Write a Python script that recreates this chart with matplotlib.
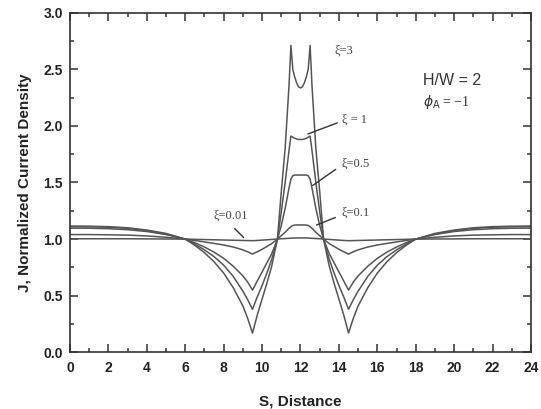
import matplotlib
matplotlib.use("Agg")
import matplotlib.pyplot as plt
from matplotlib.ticker import MultipleLocator

# Distance samples
S = [0, 1, 2, 3, 4, 5, 6, 6.5, 7, 7.5, 8, 8.5, 9, 9.25, 9.5, 9.75, 10, 10.25, 10.5, 10.8,
     11, 11.2, 11.4, 11.5, 11.6, 11.7, 11.8, 11.9, 12,
     12.1, 12.2, 12.3, 12.4, 12.5, 12.6, 12.8, 13, 13.2, 13.5, 13.75, 14, 14.25,
     14.5, 14.75, 15, 15.5, 16, 16.5, 17, 17.5, 18, 19, 20, 21, 22, 23, 24]

J_xi3 = [1.115, 1.114, 1.11, 1.10, 1.08, 1.05, 1.00, 0.945, 0.88, 0.80, 0.70, 0.57, 0.41, 0.30, 0.17,
         0.33, 0.47, 0.61, 0.76, 1.00, 1.42, 1.80, 2.35, 2.71, 2.50, 2.43, 2.38, 2.345, 2.335,
         2.345, 2.38, 2.43, 2.50, 2.71, 2.35, 1.80, 1.42, 1.00, 0.76, 0.61, 0.47, 0.33,
         0.17, 0.30, 0.41, 0.57, 0.70, 0.80, 0.88, 0.945, 1.00, 1.05, 1.08, 1.10, 1.11, 1.114, 1.115]

J_xi1 = [1.11, 1.109, 1.105, 1.095, 1.075, 1.045, 1.00, 0.955, 0.905, 0.845, 0.77, 0.67, 0.54, 0.465, 0.38,
         0.49, 0.59, 0.70, 0.82, 1.00, 1.24, 1.50, 1.78, 1.91, 1.90, 1.89, 1.885, 1.88, 1.88,
         1.88, 1.885, 1.89, 1.90, 1.91, 1.78, 1.50, 1.24, 1.00, 0.82, 0.70, 0.59, 0.49,
         0.38, 0.465, 0.54, 0.67, 0.77, 0.845, 0.905, 0.955, 1.00, 1.045, 1.075, 1.095, 1.105, 1.109, 1.11]

J_xi05 = [1.097, 1.096, 1.092, 1.083, 1.067, 1.04, 1.00, 0.968, 0.93, 0.885, 0.83, 0.76, 0.675, 0.62, 0.55,
          0.63, 0.71, 0.79, 0.87, 1.00, 1.12, 1.27, 1.45, 1.53, 1.56, 1.566, 1.566, 1.566, 1.566,
          1.566, 1.566, 1.566, 1.56, 1.53, 1.45, 1.27, 1.12, 1.00, 0.87, 0.79, 0.71, 0.63,
          0.55, 0.62, 0.675, 0.76, 0.83, 0.885, 0.93, 0.968, 1.00, 1.04, 1.067, 1.083, 1.092, 1.096, 1.097]

J_xi01 = [1.04, 1.04, 1.038, 1.035, 1.028, 1.016, 1.00, 0.988, 0.975, 0.962, 0.948, 0.93, 0.905, 0.888, 0.868,
          0.888, 0.91, 0.935, 0.96, 1.00, 1.03, 1.06, 1.095, 1.11, 1.12, 1.124, 1.125, 1.125, 1.125,
          1.125, 1.125, 1.124, 1.12, 1.11, 1.095, 1.06, 1.03, 1.00, 0.96, 0.935, 0.91, 0.888,
          0.868, 0.888, 0.905, 0.93, 0.948, 0.962, 0.975, 0.988, 1.00, 1.016, 1.028, 1.035, 1.038, 1.04, 1.04]

J_xi001 = [1.003, 1.003, 1.003, 1.003, 1.002, 1.001, 1.00, 0.998, 0.996, 0.994, 0.992, 0.99, 0.988, 0.987, 0.986,
           0.988, 0.991, 0.994, 0.997, 1.00, 1.003, 1.005, 1.007, 1.008, 1.009, 1.01, 1.01, 1.01, 1.01,
           1.01, 1.01, 1.01, 1.009, 1.008, 1.007, 1.005, 1.003, 1.00, 0.997, 0.994, 0.991, 0.988,
           0.986, 0.987, 0.988, 0.99, 0.992, 0.994, 0.996, 0.998, 1.00, 1.001, 1.002, 1.003, 1.003, 1.003, 1.003]

series = [J_xi3, J_xi1, J_xi05, J_xi01, J_xi001]

x_ticks = list(range(0, 25, 2))
y_ticks = [0.0, 0.5, 1.0, 1.5, 2.0, 2.5, 3.0]

fig = plt.figure(figsize=(5.41, 4.09), dpi=100)
ax = fig.add_axes([0.1294, 0.1386, 0.8521, 0.8304])

line_color = "#555555"
for J in series:
    ax.plot(S, J, color=line_color, lw=1.1)

ax.set_xlim(0, 24)
ax.set_ylim(0, 3.0)
ax.set_xticks(x_ticks)
ax.set_yticks(y_ticks)
ax.set_yticklabels([f"{v:.1f}" for v in y_ticks])
ax.xaxis.set_minor_locator(MultipleLocator(1))
ax.yaxis.set_minor_locator(MultipleLocator(0.25))
ax.tick_params(which="both", direction="in", top=True, right=True, color="#333333", width=1.1)
ax.tick_params(which="major", length=5.5, labelsize=10)
ax.tick_params(axis="x", which="major", pad=6)
ax.tick_params(axis="y", which="major", pad=5)
ax.tick_params(which="minor", length=3)
for lab in ax.get_xticklabels() + ax.get_yticklabels():
    lab.set_fontweight("bold")
    lab.set_family("Liberation Sans")
    lab.set_color("#222222")
for sp in ax.spines.values():
    sp.set_linewidth(1.2)
    sp.set_color("#333333")

ax.set_xlabel("S, Distance", fontsize=11, fontweight="bold", family="Liberation Sans",
              labelpad=14, color="#222222")
ax.set_ylabel("J, Normalized Current Density", fontsize=11, fontweight="bold",
              family="Liberation Sans", labelpad=8, color="#222222")

serif = dict(family="Liberation Serif", fontsize=9, color="#444444")
ax.text(13.75, 2.64, "ξ=3", **serif)
ax.text(14.15, 2.03, "ξ = 1", **serif)
ax.annotate("", xy=(12.25, 1.92), xytext=(14.05, 2.035),
            arrowprops=dict(arrowstyle="-", color="#333333", lw=1.0))
ax.text(14.15, 1.64, "ξ=0.5", **serif)
ax.annotate("", xy=(12.52, 1.46), xytext=(13.95, 1.63),
            arrowprops=dict(arrowstyle="-", color="#333333", lw=1.0))
ax.text(14.15, 1.21, "ξ=0.1", **serif)
ax.annotate("", xy=(12.7, 1.115), xytext=(13.95, 1.2),
            arrowprops=dict(arrowstyle="-", color="#333333", lw=1.0))
ax.text(7.45, 1.18, "ξ=0.01", **serif)
ax.annotate("", xy=(9.14, 0.997), xytext=(8.47, 1.11),
            arrowprops=dict(arrowstyle="-", color="#333333", lw=1.0))

ax.text(18.4, 2.36, "H/W = 2", family="Liberation Sans", fontsize=11.5, color="#333333")
ax.text(18.4, 2.18, r"$\phi_{\mathrm{A}}$ = −1", family="Liberation Serif", fontsize=10,
        color="#333333")

fig.savefig("out.png", dpi=100)
